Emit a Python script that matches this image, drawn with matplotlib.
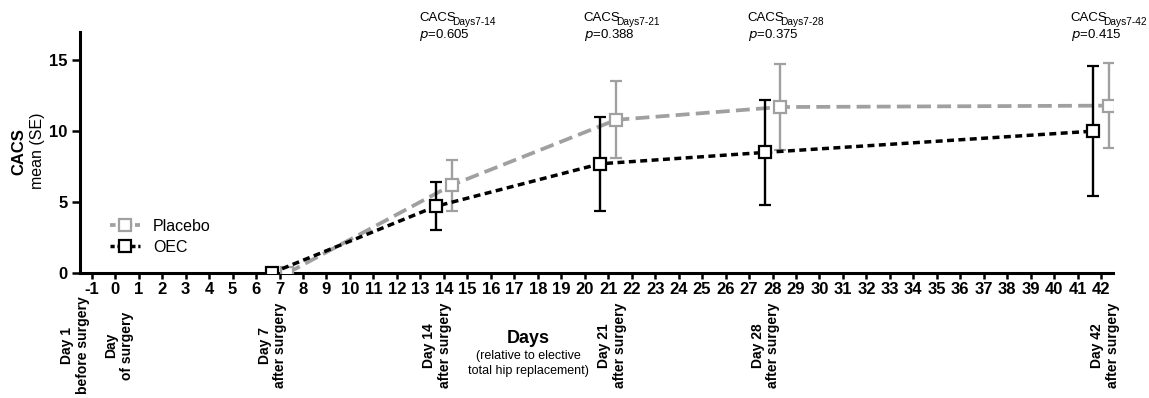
import matplotlib.pyplot as plt
from matplotlib.lines import Line2D
import matplotlib.transforms as mtransforms

# fonts
plt.rcParams['font.family'] = ['Liberation Sans Narrow', 'Liberation Sans', 'DejaVu Sans']
plt.rcParams['mathtext.fontset'] = 'custom'
plt.rcParams['axes.unicode_minus'] = False
plt.rcParams['lines.scale_dashes'] = False

days = [7, 14, 21, 28, 42]
placebo_mean = [0.0, 6.2, 10.8, 11.7, 11.8]
placebo_se = [0.0, 1.8, 2.7, 3.0, 3.0]
oec_mean = [0.0, 4.7, 7.7, 8.5, 10.0]
oec_se = [0.0, 1.7, 3.3, 3.7, 4.6]

x_ticks = list(range(-1, 43))
p_days = [14, 21, 28, 42]
p_values = ['0.605', '0.388', '0.375', '0.415']

visit_days = [-1, 0, 7, 14, 21, 28, 42]
visit_labels = ['Day 1\nbefore surgery', 'Day\nof surgery', 'Day 7\nafter surgery',
                'Day 14\nafter surgery', 'Day 21\nafter surgery',
                'Day 28\nafter surgery', 'Day 42\nafter surgery']

gray = '#a0a0a0'
shift = 0.34

fig = plt.figure(figsize=(11.49, 3.98), dpi=100)
ax = fig.add_axes([0.0696, 0.314, 0.899, 0.606])

# placebo (gray, long dashes)
ax.errorbar([d + shift for d in days], placebo_mean, yerr=placebo_se,
            color=gray, lw=2.7, dashes=(10, 4.5), marker='s', ms=8.5,
            mfc='white', mec=gray, mew=1.6, ecolor=gray, elinewidth=1.7,
            capsize=4.3, capthick=1.7, zorder=3)
# OEC (black, short dashes)
ax.errorbar([d - shift for d in days], oec_mean, yerr=oec_se,
            color='black', lw=2.5, dashes=(5, 3.2), marker='s', ms=8.5,
            mfc='white', mec='black', mew=1.6, ecolor='black', elinewidth=1.7,
            capsize=4.3, capthick=1.7, zorder=4)

ax.set_xlim(-1.5, 42.5)
ax.set_ylim(0, 17)
ax.set_xticks(x_ticks)
ax.set_yticks([0, 5, 10, 15])
for s in ['top', 'right']:
    ax.spines[s].set_visible(False)
for s in ['left', 'bottom']:
    ax.spines[s].set_linewidth(2.2)
ax.tick_params(axis='x', length=4.5, width=1.8, pad=2, labelsize=12)
ax.tick_params(axis='y', length=6, width=1.8, pad=3, labelsize=12)
for lab in ax.get_xticklabels() + ax.get_yticklabels():
    lab.set_fontweight('bold')

# y label (two lines, bold + regular)
fig.text(0.016, 0.62, 'CACS', rotation=90, fontsize=12, fontweight='bold',
         ha='center', va='center')
fig.text(0.033, 0.62, 'mean (SE)', rotation=90, fontsize=11.5,
         ha='center', va='center')

# x label
ax.text(0.434, -0.27, 'Days', transform=ax.transAxes, fontsize=13,
        fontweight='bold', ha='center', va='center')
ax.text(0.434, -0.375, '(relative to elective\ntotal hip replacement)',
        transform=ax.transAxes, fontsize=9, ha='center', va='center',
        linespacing=1.3)

# rotated visit labels under the axis
trans = mtransforms.blended_transform_factory(ax.transData, ax.transAxes)
for d, lab in zip(visit_days, visit_labels):
    off = -0.7 if d == -1 else (-0.3 if d in (7, 14, 28) else 0.15)
    ax.text(d + off, -0.3, lab, transform=trans, rotation=90, fontsize=10,
            fontweight='bold', ha='center', va='center', multialignment='center',
            linespacing=1.15)

# p-value annotations
for d, p in zip(p_days, p_values):
    xpos = d - 1.05 if d < 42 else d - 1.3
    ax.text(xpos, 17.75, 'CACS', fontsize=9.5, ha='left', va='baseline',
            clip_on=False)
    ax.annotate('Days7-%d' % d, xy=(xpos, 17.75), xytext=(23.5, -3),
                textcoords='offset points', fontsize=7.3, ha='left',
                va='baseline', annotation_clip=False)
    ax.text(xpos, 16.55, '$p$=' + p, fontsize=9.5, ha='left', va='baseline',
            clip_on=False)

# legend
h_pl = Line2D([], [], color=gray, lw=2.7, dashes=(4, 2), marker='s', ms=8.5,
              mfc='white', mec=gray, mew=1.6)
h_oec = Line2D([], [], color='black', lw=2.5, dashes=(3, 2), marker='s', ms=8.5,
               mfc='white', mec='black', mew=1.6)
ax.legend([h_pl, h_oec], ['Placebo', 'OEC'], loc='center left',
          bbox_to_anchor=(0.015, 0.15), frameon=False, fontsize=11.5,
          handlelength=1.9, numpoints=1, labelspacing=0.4, handletextpad=0.8)

fig.savefig('out.png', dpi=100)
